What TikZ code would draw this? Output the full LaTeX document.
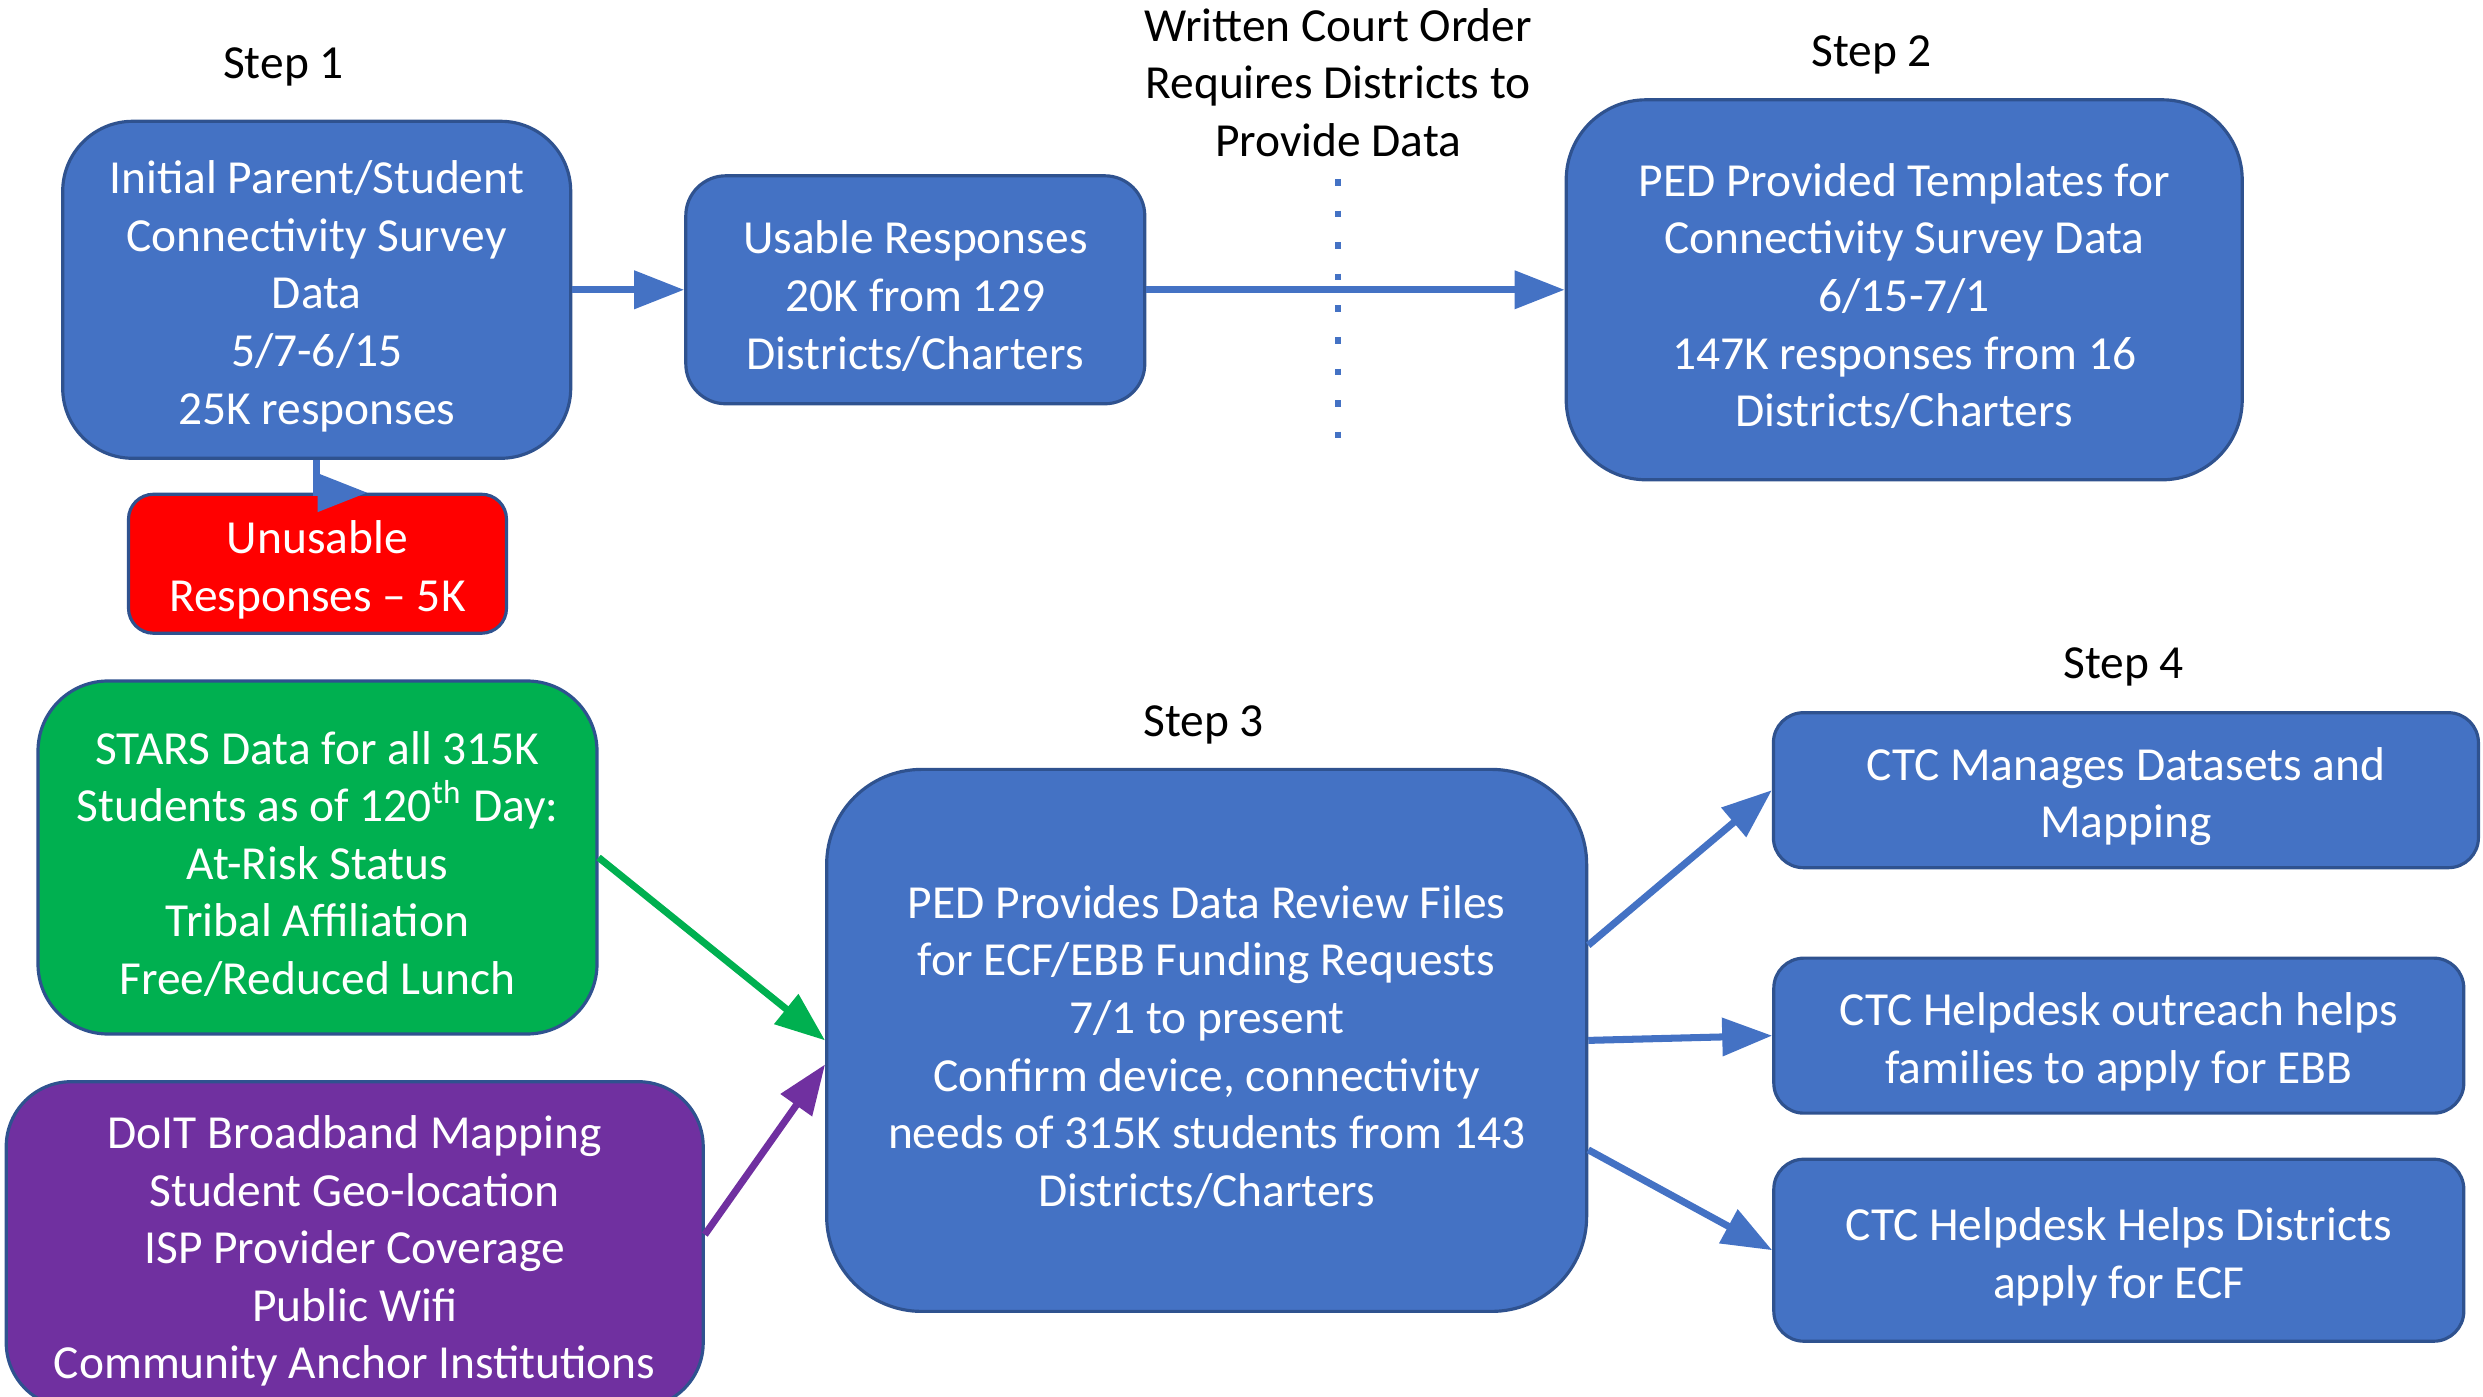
\documentclass[tikz,border=0pt]{standalone}
\usepackage{fontspec}
\setmainfont{Carlito}
\usepackage{tikz}
\usetikzlibrary{shapes,arrows,arrows.meta,calc}

\definecolor{ppblue}{HTML}{4472C4}
\definecolor{ppedge}{HTML}{2F528F}
\definecolor{ppred}{HTML}{FF0000}
\definecolor{ppgreen}{HTML}{00B050}
\definecolor{pppurple}{HTML}{7030A0}

\newcommand{\topgap}{\rule{0pt}{13pt}}

\begin{document}
\begin{tikzpicture}[x=0.15836mm,y=-0.15836mm,>={Triangle[length=5mm,width=3.7mm]},
    font=\fontsize{13.5}{16.4}\selectfont,
    box/.style={draw=ppedge,line width=0.9pt,fill=ppblue,text=white,align=center,inner sep=0pt},
    flow/.style={->,ppblue,line width=2pt}]
      \useasboundingbox (0,0) rectangle (1568,882);
      \node (step1) at (179,42) {Step 1};
      \node (step2) at (1182,35) {Step 2};
      \node (step3) at (760,458) {Step 3};
      \node (step4) at (1341,421) {Step 4};
      \node[align=center] (order) at (845,52) {Written Court Order\\Requires Districts to\\Provide Data};
      \node[box,minimum width=5.08cm,minimum height=3.37cm,rounded corners=7mm] (survey) at (200,183)
        {\topgap Initial Parent/Student\\Connectivity Survey\\Data\\5/7-6/15\\25K responses};
      \node[box,fill=ppred,minimum width=3.78cm,minimum height=1.39cm,rounded corners=2.5mm] (unusable) at (200.5,356)
        {\topgap Unusable\\Responses -- 5K};
      \node[box,minimum width=4.59cm,minimum height=2.28cm,rounded corners=4mm] (usable) at (578,183)
        {\topgap Usable Responses\\20K from 129\\Districts/Charters};
      \node[box,minimum width=6.76cm,minimum height=3.8cm,rounded corners=8mm] (templates) at (1202.5,183)
        {\topgap PED Provided Templates for\\Connectivity Survey Data\\6/15-7/1\\147K responses from 16\\Districts/Charters};
      \node[box,minimum width=7.6cm,minimum height=5.42cm,rounded corners=9.5mm] (review) at (762,657)
        {\topgap PED Provides Data Review Files\\for ECF/EBB Funding Requests\\7/1 to present\\Confirm device, connectivity\\needs of 315K students from 143\\Districts/Charters};
      \node[box,fill=ppgreen,minimum width=5.59cm,minimum height=3.53cm,rounded corners=7mm] (stars) at (200.5,541.5)
        {\topgap STARS Data for all 315K\\Students as of 120\textsuperscript{th} Day:\\At-Risk Status\\Tribal Affiliation\\Free/Reduced Lunch};
      \node[box,fill=pppurple,minimum width=6.97cm,minimum height=3.26cm,rounded corners=6.5mm] (doit) at (224,786)
        {\topgap DoIT Broadband Mapping\\Student Geo-location\\ISP Provider Coverage\\Public Wifi\\Community Anchor Institutions};
      \node[box,minimum width=7.05cm,minimum height=1.55cm,rounded corners=3mm] (mapping) at (1342.5,499)
        {\topgap CTC Manages Datasets and\\Mapping};
      \node[box,minimum width=6.9cm,minimum height=1.55cm,rounded corners=3mm] (outreach) at (1338,654)
        {\topgap CTC Helpdesk outreach helps\\families to apply for EBB};
      \node[box,minimum width=6.9cm,minimum height=1.82cm,rounded corners=3mm] (ecf) at (1338,789.5)
        {\topgap CTC Helpdesk Helps Districts\\apply for ECF};
      \coordinate (cut top) at (845,113);
      \coordinate (cut bottom) at (845,277);
      \draw[ppblue,line width=0.66mm,dash pattern=on 0.66mm off 2.5mm] (cut top) -- (cut bottom);
      \draw[flow] (survey.east) -- (usable.west);
      \draw[flow] (usable.east) -- (templates.west);
      \draw[flow] (survey.south) |- ([xshift=5mm]unusable.north);
      \draw[flow,ppgreen] (stars.east) -- (review.west);
      \draw[flow,pppurple] ([yshift=1mm]doit.east) -- ([yshift=-2.4mm]review.west);
      \foreach \a/\t in {14/mapping,0/outreach,-16.5/ecf}
        \draw[flow] (review.\a) -- (\t.west);
\end{tikzpicture}
\end{document}
